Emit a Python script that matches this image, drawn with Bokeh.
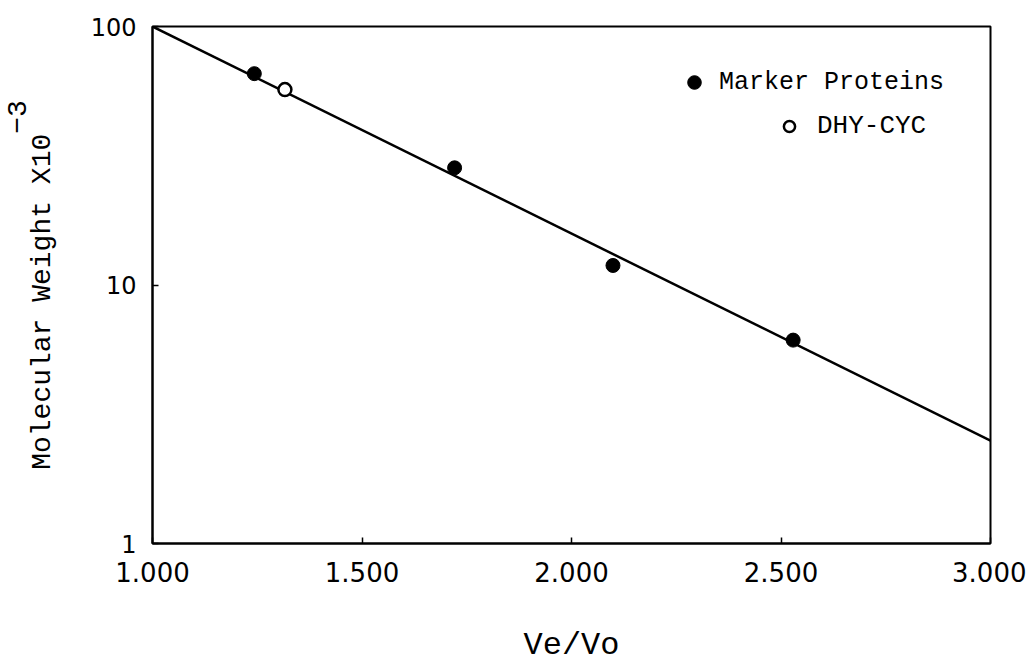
from bokeh.plotting import figure
from bokeh.models import Range1d, FixedTicker, Legend, LegendItem
from bokeh.embed import file_html
from bokeh.resources import INLINE

# ---- data ----
marker_x = [1.243, 1.721, 2.099, 2.529]
marker_y = [65.7, 28.4, 11.9, 6.12]
dhy_x = [1.316]
dhy_y = [57.0]
fit_x = [1.0, 3.0]
fit_y = [100.0, 2.5]

x_ticks = [1.0, 1.5, 2.0, 2.5, 3.0]
x_tick_labels = ["1.000", "1.500", "2.000", "2.500", "3.000"]
y_ticks = [1, 10, 100]
y_tick_labels = ["1", "10", "100"]

legend_labels = ["Marker Proteins", "DHY-CYC"]
x_title = "Ve/Vo"
y_title = "Molecular Weight X10"
y_title_exp = "\u22123"

MONO = "Liberation Mono"
SANS = "DejaVu Sans"
NBSP = "\u00a0"

p = figure(width=1026, height=666, y_axis_type="log",
           x_range=Range1d(1.0, 3.0), y_range=Range1d(1, 100),
           output_backend="svg", toolbar_location=None,
           min_border_left=151, min_border_right=36,
           min_border_top=26, min_border_bottom=123)

p.background_fill_color = "white"
p.border_fill_color = "white"
p.xgrid.visible = False
p.ygrid.visible = False
p.outline_line_color = "black"
p.outline_line_width = 2

# axes
for ax in (p.xaxis[0], p.yaxis[0]):
    ax.axis_line_width = 2
    ax.axis_line_color = "black"
    ax.major_tick_in = 6
    ax.major_tick_out = 0
    ax.major_tick_line_width = 1.5
    ax.minor_tick_line_color = None
    ax.major_label_text_color = "black"
    ax.axis_label_text_color = "black"
    ax.axis_label_text_font = MONO
    ax.axis_label_text_font_style = "normal"

p.xaxis.ticker = FixedTicker(ticks=x_ticks)
p.xaxis.major_label_overrides = {t: l for t, l in zip(x_ticks, x_tick_labels)}
p.xaxis.major_label_text_font = SANS
p.xaxis.major_label_text_font_size = "26px"
p.xaxis.major_label_standoff = 18
p.xaxis.axis_label = x_title
p.xaxis.axis_label_text_font_size = "32px"
p.xaxis.axis_label_standoff = 42

# y title: main text with a raised exponent on a second (offset) line
pad = NBSP * len(y_title)
p.yaxis.ticker = FixedTicker(ticks=y_ticks)
p.yaxis.major_label_overrides = {t: l for t, l in zip(y_ticks, y_tick_labels)}
p.yaxis.major_label_text_font = SANS
p.yaxis.major_label_text_font_size = "24px"
p.yaxis.major_label_standoff = 16
p.yaxis.axis_label = pad + y_title_exp + "\n" + y_title + NBSP * 2
p.yaxis.axis_label_text_font_size = "28px"
p.yaxis.axis_label_text_line_height = 0.75
p.yaxis.axis_label_standoff = 30

# fit line
p.line(fit_x, fit_y, line_color="black", line_width=2.5)

# points
r_marker = p.scatter(marker_x, marker_y, marker="circle", size=14,
                     fill_color="black", line_color="black")
r_dhy = p.scatter(dhy_x, dhy_y, marker="circle", size=13,
                  fill_color="white", line_color="black", line_width=2.5)

leg1 = Legend(items=[LegendItem(label=legend_labels[0], renderers=[r_marker])],
              location=(525, 444), padding=0, margin=0, spacing=0,
              glyph_width=34, glyph_height=34, label_height=34,
              label_standoff=8, border_line_color=None,
              background_fill_alpha=0, label_text_font=MONO,
              label_text_color="black", label_text_font_size="25px")
leg2 = Legend(items=[LegendItem(label=legend_labels[1], renderers=[r_dhy])],
              location=(623, 400), padding=0, margin=0, spacing=0,
              glyph_width=28, glyph_height=28, label_height=34,
              label_standoff=14, border_line_color=None,
              background_fill_alpha=0, label_text_font=MONO,
              label_text_color="black", label_text_font_size="26px")
p.add_layout(leg1)
p.add_layout(leg2)

open("out.html", "w").write(file_html(p, INLINE))
